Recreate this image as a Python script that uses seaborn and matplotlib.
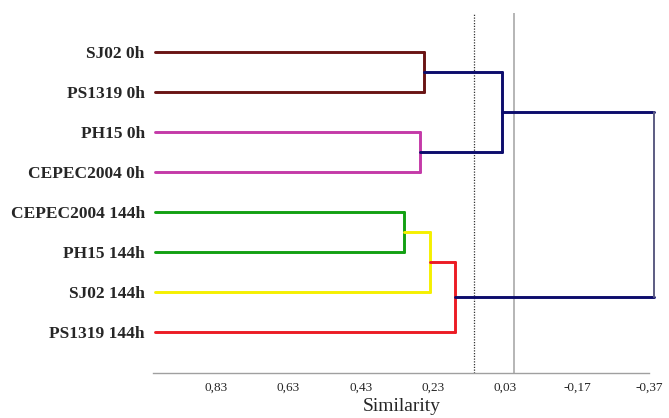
import matplotlib
matplotlib.use("Agg")
import matplotlib.pyplot as plt
import seaborn as sns

# leaves, top to bottom
leaves = ["SJ02 0h", "PS1319 0h", "PH15 0h", "CEPEC2004 0h",
          "CEPEC2004 144h", "PH15 144h", "SJ02 144h", "PS1319 144h"]
leaf_sim = 1.0

# merges: (child a, child b) -> new node 8, 9, ...
merge_a = [0, 2, 4, 10, 11, 8, 13]
merge_b = [1, 3, 5, 6, 7, 9, 12]
merge_sim = [0.255, 0.265, 0.309, 0.237, 0.168, 0.039, -0.385]
merge_color = ["#6a1414", "#c43aa8", "#12a012", "#f5f000", "#ec1c24", "#0c0c6c", "#0c0c6c"]
vert_color = ["#6a1414", "#c43aa8", "#12a012", "#f5f000", "#ec1c24", "#0c0c6c", "#5c5c82"]
leaf_color = ["#6a1414", "#6a1414", "#c43aa8", "#c43aa8",
              "#12a012", "#12a012", "#f5f000", "#ec1c24"]

xticks = [0.83, 0.63, 0.43, 0.23, 0.03, -0.17, -0.37]
xtick_labels = ["0,83", "0,63", "0,43", "0,23", "0,03", "-0,17", "-0,37"]
cut_dotted = 0.115
cut_solid = 0.005

sns.set_style("white")
plt.rcParams["font.family"] = ["Liberation Serif", "DejaVu Serif"]

fig = plt.figure(figsize=(6.69, 4.18), dpi=100)
ax = fig.add_axes([153 / 669, 1 - 372.7 / 418, (649 - 153) / 669, (372.7 - 13) / 418])

# node positions
pos_x = [leaf_sim] * len(leaves)
pos_y = list(range(len(leaves)))
lw = 2.1
for i in range(len(merge_sim)):
    a, b, h = merge_a[i], merge_b[i], merge_sim[i]
    ca = leaf_color[a] if a < len(leaves) else merge_color[i]
    cb = leaf_color[b] if b < len(leaves) else merge_color[i]
    sns.lineplot(x=[pos_x[a], h], y=[pos_y[a], pos_y[a]], ax=ax, color=ca,
                 linewidth=lw, sort=False, estimator=None)
    sns.lineplot(x=[pos_x[b], h], y=[pos_y[b], pos_y[b]], ax=ax, color=cb,
                 linewidth=lw, sort=False, estimator=None)
    vlw = 1.4 if i == len(merge_sim) - 1 else lw
    sns.lineplot(x=[h, h], y=[pos_y[a], pos_y[b]], ax=ax, color=vert_color[i],
                 linewidth=vlw, sort=False, estimator=None)
    pos_x.append(h)
    pos_y.append((pos_y[a] + pos_y[b]) / 2)

for line in ax.lines:
    line.set_clip_on(False)

ax.axvline(cut_dotted, color="#333333", linestyle=(0, (1, 1.2)), linewidth=0.9, zorder=0)
ax.axvline(cut_solid, color="#b5b5b5", linewidth=1.4, zorder=0)

ax.set_xlim(1.006, -0.37)
ax.set_ylim(8.02, -0.975)

ax.set_xticks(xticks)
ax.set_xticklabels(xtick_labels, fontsize=9.5)
ax.set_yticks(range(len(leaves)))
ax.set_yticklabels(leaves, fontsize=12.5, fontweight="bold")
ax.tick_params(axis="y", length=0, pad=6)
ax.tick_params(axis="x", direction="inout", length=7, width=1, color="#a0a0a0", pad=3)

for s in ["top", "right", "left"]:
    ax.spines[s].set_visible(False)
ax.spines["bottom"].set_color("#a0a0a0")
ax.spines["bottom"].set_linewidth(1)

fig.text(401.5 / 669, 1 - 398 / 418, "Similarity", ha="center", va="top", fontsize=14)

plt.savefig("out.png", dpi=100)
plt.close()
